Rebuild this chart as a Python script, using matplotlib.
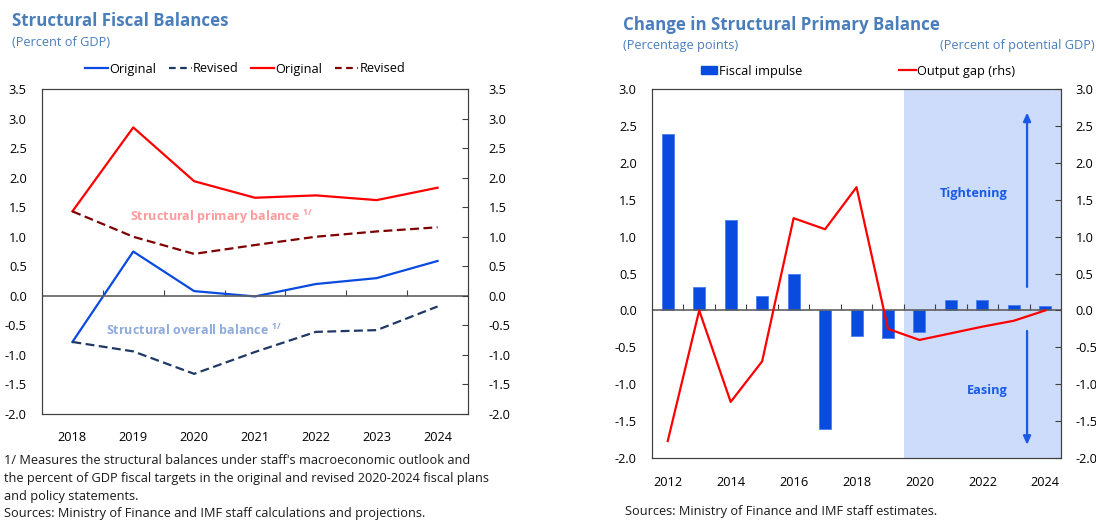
import numpy as np
import matplotlib
matplotlib.use('Agg')
import matplotlib.pyplot as plt
from matplotlib.lines import Line2D
from matplotlib.patches import Patch

plt.rcParams['font.family'] = ['Open Sans', 'DejaVu Sans']
plt.rcParams['mathtext.fontset'] = 'custom'
plt.rcParams['mathtext.rm'] = 'Open Sans'

# left panel data
years_l = ['2018', '2019', '2020', '2021', '2022', '2023', '2024']
overall_orig = [-0.78, 0.75, 0.08, -0.01, 0.20, 0.30, 0.59]
overall_rev = [-0.78, -0.94, -1.32, -0.95, -0.61, -0.58, -0.18]
primary_orig = [1.43, 2.85, 1.94, 1.66, 1.70, 1.62, 1.83]
primary_rev = [1.43, 1.00, 0.71, 0.86, 1.00, 1.09, 1.16]

# right panel data
years_r = list(range(2012, 2025))
fiscal_impulse = [2.39, 0.32, 1.22, 0.19, 0.49, -1.61, -0.35, -0.38, -0.29, 0.14, 0.14, 0.08, 0.06]
output_gap = [-1.77, 0.0, -1.24, -0.69, 1.25, 1.10, 1.67, -0.25, -0.40, -0.31, -0.22, -0.14, 0.0]

TITLE = '#4a7ebb'
BLUE = '#0a4bdf'
NAVY = '#1f3864'
RED = '#ff0000'
DRED = '#7f0000'
FRAME = '#404040'
FS = 9.2

fig = plt.figure(figsize=(10.96, 5.2), dpi=100)

# ---------------- left panel ----------------
ax = fig.add_axes([0.0383, 0.2038, 0.3887, 0.625])
x = np.arange(len(years_l))
ax.plot(x, overall_orig, color=BLUE, lw=1.6)
ax.plot(x, overall_rev, color=NAVY, lw=1.6, dashes=(4, 2))
ax.plot(x, primary_orig, color=RED, lw=1.6)
ax.plot(x, primary_rev, color=DRED, lw=1.6, dashes=(4, 2))
ax.set_xlim(-0.5, 6.5)
ax.set_ylim(-2.0, 3.5)
ax.set_yticks(np.arange(-2.0, 3.51, 0.5))
ax.set_yticklabels(['%.1f' % v for v in np.arange(-2.0, 3.51, 0.5)])
ax.set_xticks(x)
ax.set_xticklabels(years_l)
ax.tick_params(axis='x', length=0, pad=12, labelsize=FS)
ax.tick_params(axis='y', length=0, pad=11, labelsize=FS)
for s in ax.spines.values():
    s.set_color(FRAME)
ax.axhline(0, color='#606060', lw=1.2)
# small tick marks on the zero line, between categories
zero = ax.secondary_xaxis(2.0 / 5.5)
zero.set_xticks(np.arange(0.5, 6, 1))
zero.tick_params(direction='in', length=4, color='#404040', labelbottom=False, labeltop=False)
zero.spines['bottom'].set_visible(False)
zero.spines['top'].set_visible(False)
axr = ax.twinx()
axr.set_ylim(-2.0, 3.5)
axr.set_yticks(np.arange(-2.0, 3.51, 0.5))
axr.set_yticklabels(['%.1f' % v for v in np.arange(-2.0, 3.51, 0.5)])
axr.tick_params(axis='y', direction='in', length=4, pad=15, labelsize=FS, color=FRAME)
for s in axr.spines.values():
    s.set_color(FRAME)

ax.text(0.94, 1.33, r'Structural primary balance $^{\mathregular{1/}}$', color='#ff9b9b',
        fontsize=9, fontweight='bold', va='center')
ax.text(0.55, -0.58, r'Structural overall balance $^{\mathregular{1/}}$', color='#8fabdc',
        fontsize=9, fontweight='bold', va='center')

handles = [Line2D([], [], color=BLUE, lw=1.6),
           Line2D([], [], color=NAVY, lw=1.6, dashes=(3, 2)),
           Line2D([], [], color=RED, lw=1.6),
           Line2D([], [], color=DRED, lw=1.6, dashes=(3, 2))]
fig.legend(handles, ['Original', 'Revised', 'Original', 'Revised'], ncol=4, frameon=False,
           loc='center', bbox_to_anchor=(245 / 1096, 1 - 69 / 520), fontsize=FS,
           handlelength=1.8, handletextpad=0.1, columnspacing=1.0)

fig.text(12 / 1096, 1 - 21 / 520, 'Structural Fiscal Balances', color=TITLE, fontsize=12.2,
         fontweight='bold', va='center')
fig.text(12 / 1096, 1 - 43 / 520, '(Percent of GDP)', color=TITLE, fontsize=FS, va='center')
notes = ["1/ Measures the structural balances under staff's macroeconomic outlook and",
         "the percent of GDP fiscal targets in the original and revised 2020-2024 fiscal plans",
         "and policy statements.",
         "Sources: Ministry of Finance and IMF staff calculations and projections."]
for i, line in enumerate(notes):
    fig.text(4 / 1096, 1 - (461 + i * 17.6) / 520, line, fontsize=FS, va='center', color='#1a1a1a')

# ---------------- right panel ----------------
bx = fig.add_axes([0.5949, 0.1192, 0.3732, 0.7096])
xr = np.arange(len(years_r))
bx.axvspan(7.5, 12.5, color='#cddcfb', lw=0, zorder=0)
bx.bar(xr, fiscal_impulse, width=0.38, color=BLUE, edgecolor='#4a7df0', lw=0.6, zorder=2)
bx.set_xlim(-0.5, 12.5)
bx.set_ylim(-2.0, 3.0)
bx.set_yticks(np.arange(-2.0, 3.01, 0.5))
bx.set_yticklabels(['%.1f' % v for v in np.arange(-2.0, 3.01, 0.5)])
bx.set_xticks(xr[::2])
bx.set_xticklabels([str(y) for y in years_r[::2]])
bx.tick_params(axis='x', length=0, pad=13, labelsize=FS)
bx.tick_params(axis='y', length=0, pad=11, labelsize=FS)
for s in bx.spines.values():
    s.set_color(FRAME)
bx.axhline(0, color='#606060', lw=1.2, zorder=3)
zr = bx.secondary_xaxis(2.0 / 5.0)
zr.set_xticks(np.arange(0.5, 12, 1))
zr.tick_params(direction='in', length=4, color='#404040', labelbottom=False, labeltop=False)
zr.spines['bottom'].set_visible(False)
zr.spines['top'].set_visible(False)

bxr = bx.twinx()
bxr.plot(xr, output_gap, color=RED, lw=1.6)
bxr.set_ylim(-2.0, 3.0)
bxr.set_yticks(np.arange(-2.0, 3.01, 0.5))
bxr.set_yticklabels(['%.1f' % v for v in np.arange(-2.0, 3.01, 0.5)])
bxr.tick_params(axis='y', direction='in', length=4, pad=10.5, labelsize=FS, color=FRAME)
for s in bxr.spines.values():
    s.set_color(FRAME)

ARW = '#1a5be6'
bxr.annotate('', xy=(11.42, 2.72), xytext=(11.42, 0.28),
             arrowprops=dict(arrowstyle='-|>,head_length=0.5,head_width=0.22', color=ARW, lw=1.6))
bxr.annotate('', xy=(11.42, -1.86), xytext=(11.42, -0.24),
             arrowprops=dict(arrowstyle='-|>,head_length=0.5,head_width=0.22', color=ARW, lw=1.6))
bxr.text(9.73, 1.59, 'Tightening', color=ARW, fontsize=9.2, fontweight='bold', ha='center', va='center')
bxr.text(10.15, -1.08, 'Easing', color=ARW, fontsize=9.2, fontweight='bold', ha='center', va='center')

handles_r = [Patch(color=BLUE), Line2D([], [], color=RED, lw=1.6)]
fig.legend(handles_r, ['Fiscal impulse', 'Output gap (rhs)'], ncol=2, frameon=False,
           loc='center', bbox_to_anchor=(858 / 1096, 1 - 71 / 520), fontsize=FS,
           handlelength=1.3, handleheight=0.6, handletextpad=0.1, columnspacing=7.6)

fig.text(623 / 1096, 1 - 25 / 520, 'Change in Structural Primary Balance', color=TITLE,
         fontsize=12.2, fontweight='bold', va='center')
fig.text(623 / 1096, 1 - 45 / 520, '(Percentage points)', color=TITLE, fontsize=FS, va='center')
fig.text(1095 / 1096, 1 - 45 / 520, '(Percent of potential GDP)', color=TITLE, fontsize=FS,
         va='center', ha='right')
fig.text(625 / 1096, 1 - 512 / 520, 'Sources: Ministry of Finance and IMF staff estimates.',
         fontsize=FS, va='center', color='#1a1a1a')

fig.savefig('out.png', dpi=100)
